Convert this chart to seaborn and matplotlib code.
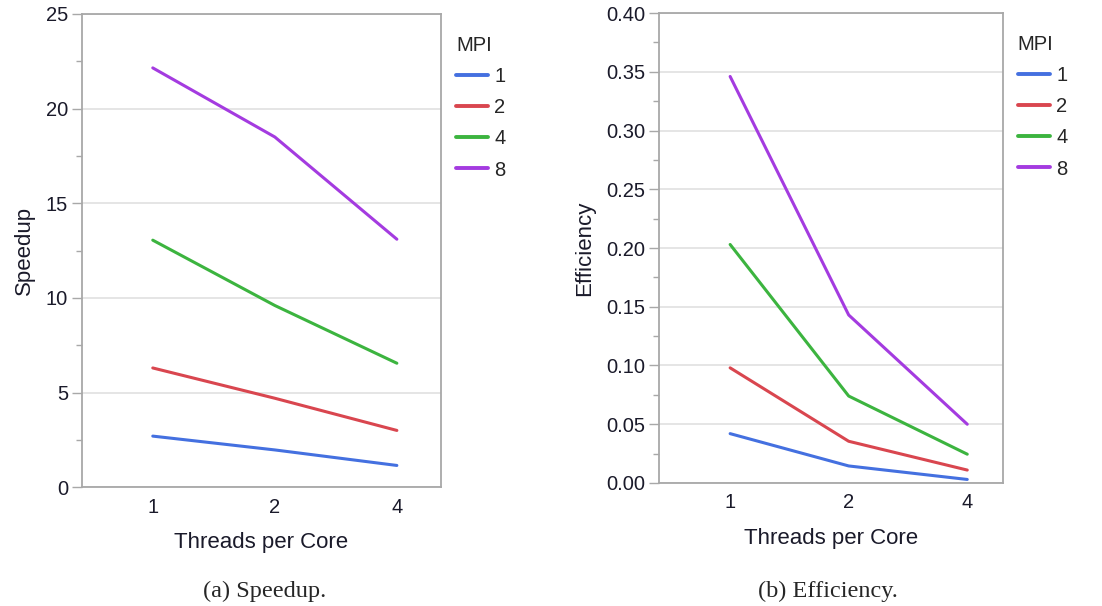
import matplotlib
matplotlib.use("Agg")
import matplotlib.pyplot as plt
from matplotlib.ticker import MultipleLocator
from matplotlib.lines import Line2D
import seaborn as sns
import pandas as pd

threads = ["1", "2", "4"]
mpi = ["1", "2", "4", "8"]
speedup = {
    "1": [2.7, 1.97, 1.15],
    "2": [6.3, 4.7, 3.0],
    "4": [13.05, 9.6, 6.55],
    "8": [22.15, 18.5, 13.1],
}
efficiency = {
    "1": [0.042, 0.0145, 0.003],
    "2": [0.098, 0.0355, 0.011],
    "4": [0.203, 0.074, 0.0245],
    "8": [0.346, 0.143, 0.050],
}
colors = ["#4470E0", "#D9464F", "#3CB43F", "#A43BE0"]


def to_df(d, name):
    rows = []
    for m in mpi:
        for t, v in zip(threads, d[m]):
            rows.append({"Threads per Core": t, "MPI": m, name: v})
    return pd.DataFrame(rows)


sns.set_style("white")
plt.rcParams["font.family"] = ["Liberation Sans", "DejaVu Sans"]

fig = plt.figure(figsize=(11.02, 6.06), dpi=100)
ax1 = fig.add_axes([0.0744, 0.196, 0.3256, 0.781])
ax2 = fig.add_axes([0.598, 0.203, 0.312, 0.7755])

specs = [
    (ax1, to_df(speedup, "Speedup"), "Speedup", (0, 25), 5, 2.5, "{:.0f}", "(a) Speedup.", (-0.58, 2.36), 0.003),
    (ax2, to_df(efficiency, "Efficiency"), "Efficiency", (0, 0.40), 0.05, 0.025, "{:.2f}", "(b) Efficiency.", (-0.6, 2.3), -0.003),
]

for ax, df, yname, ylim, major, minor, fmt, cap, xlim, capoff in specs:
    sns.lineplot(data=df, x="Threads per Core", y=yname, hue="MPI",
                 hue_order=mpi, palette=colors, linewidth=2.2, ax=ax,
                 legend=False, sort=False)
    ax.set_ylim(*ylim)
    ax.set_xlim(*xlim)
    ax.yaxis.set_major_locator(MultipleLocator(major))
    ax.yaxis.set_minor_locator(MultipleLocator(minor))
    ax.set_yticklabels([fmt.format(v) for v in ax.get_yticks()])
    ax.grid(True, axis="y", which="major", color="#E0E0E0", linewidth=1.2)
    ax.set_axisbelow(True)
    for s in ax.spines.values():
        s.set_color("#A8A8A8")
        s.set_linewidth(1.3)
    ax.tick_params(axis="y", which="major", left=True, length=7, width=1, color="#A8A8A8",
                   labelsize=14.5, pad=3, labelcolor="#1a1a2a")
    ax.tick_params(axis="y", which="minor", left=True, length=4, width=1, color="#A8A8A8")
    ax.tick_params(axis="x", which="both", bottom=False, labelsize=14.5, pad=4, labelcolor="#1a1a2a")
    ax.set_xlabel("Threads per Core", fontsize=16, labelpad=11, color="#1a1a2a")
    ax.set_ylabel(yname, fontsize=16, labelpad=8, color="#1a1a2a")
    handles = [Line2D([0], [0], color=c, linewidth=2.8) for c in colors]
    leg = ax.legend(handles, mpi, title="MPI", loc="upper left",
                    bbox_to_anchor=(1.02, 0.97), frameon=False, fontsize=14.5,
                    title_fontsize=14.5, handlelength=1.6, handletextpad=0.3,
                    labelspacing=0.6, borderaxespad=0, alignment="left")
    pos = ax.get_position()
    fig.text((pos.x0 + pos.x1) / 2 + capoff, 0.024, cap, ha="center", va="center",
             fontsize=17.5, family=["Liberation Serif", "DejaVu Serif"])

fig.savefig("out.png", dpi=100)
